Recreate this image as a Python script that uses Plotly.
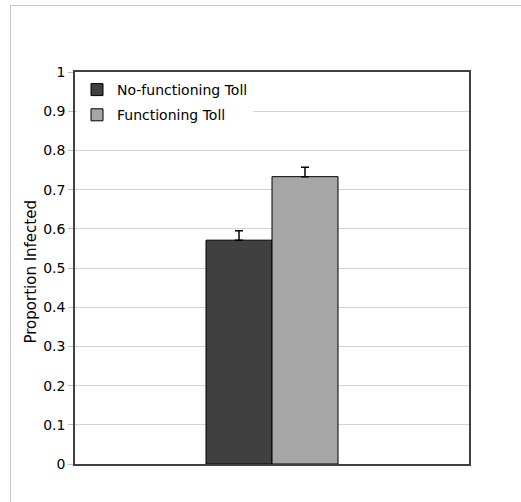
import plotly.graph_objects as go

categories = [""]
series_names = ["No-functioning Toll", "Functioning Toll"]
values_no_toll = [0.571]
values_toll = [0.733]
err_no_toll = [0.024]
err_toll = [0.024]
colors = ["#404040", "#a6a6a6"]
y_ticks = [0, 0.1, 0.2, 0.3, 0.4, 0.5, 0.6, 0.7, 0.8, 0.9, 1]
y_tick_labels = ["0", "0.1", "0.2", "0.3", "0.4", "0.5", "0.6", "0.7", "0.8", "0.9", "1"]

FONT = "DejaVu Sans"

fig = go.Figure()
for name, vals, errs, col in zip(series_names, [values_no_toll, values_toll],
                                 [err_no_toll, err_toll], colors):
    fig.add_trace(go.Bar(
        x=categories, y=vals, name=name, legendgroup=name,
        marker=dict(color=col, line=dict(color="#000000", width=1)),
        error_y=dict(type="data", array=errs, symmetric=False, arrayminus=[0] * len(errs),
                     color="#000000", thickness=1.5, width=4),
    ))

W, H = 521, 502
L, R, T, B = 75, 52, 72, 38
pw, ph = W - L - R, H - T - B

def px_x(p):
    return (p - L) / pw

def px_y(p):
    return (H - B - p) / ph

fig.update_layout(
    width=W, height=H,
    margin=dict(l=L, r=R, t=T, b=B),
    paper_bgcolor="white", plot_bgcolor="white",
    barmode="group", bargap=0.665, bargroupgap=0,
    font=dict(family=FONT, size=14, color="#000000"),
    showlegend=True,
    legend=dict(x=px_x(77), y=px_y(74), xanchor="left", yanchor="top",
                bgcolor="white", borderwidth=0, traceorder="grouped",
                tracegroupgap=4, font=dict(family=FONT, size=14, color="#000000")),
    xaxis=dict(showgrid=False, showline=True, linecolor="#404040", linewidth=1.5,
               mirror=True, ticks="", showticklabels=False, zeroline=False),
    yaxis=dict(range=[0, 1], tickvals=y_ticks, ticktext=y_tick_labels,
               showgrid=True, gridcolor="#d4d4d4", gridwidth=1,
               showline=True, linecolor="#404040", linewidth=1.5, mirror=True,
               ticks="outside", ticklen=5, tickcolor="#bdbdbd", tickwidth=1,
               zeroline=False, tickfont=dict(family=FONT, size=14, color="#000000")),
    annotations=[dict(text="Proportion Infected", textangle=-90, xref="paper", yref="paper",
                      x=px_x(30), y=px_y(272.5), xanchor="center", yanchor="middle",
                      showarrow=False, font=dict(family=FONT, size=15, color="#000000"))],
    shapes=[
        dict(type="line", xref="paper", yref="paper", x0=px_x(10), x1=px_x(530),
             y0=px_y(5.5), y1=px_y(5.5), line=dict(color="#c8c8c8", width=1)),
        dict(type="line", xref="paper", yref="paper", x0=px_x(10.5), x1=px_x(10.5),
             y0=px_y(5), y1=px_y(510), line=dict(color="#c8c8c8", width=1)),
    ],
)

fig.write_html("out.html")
